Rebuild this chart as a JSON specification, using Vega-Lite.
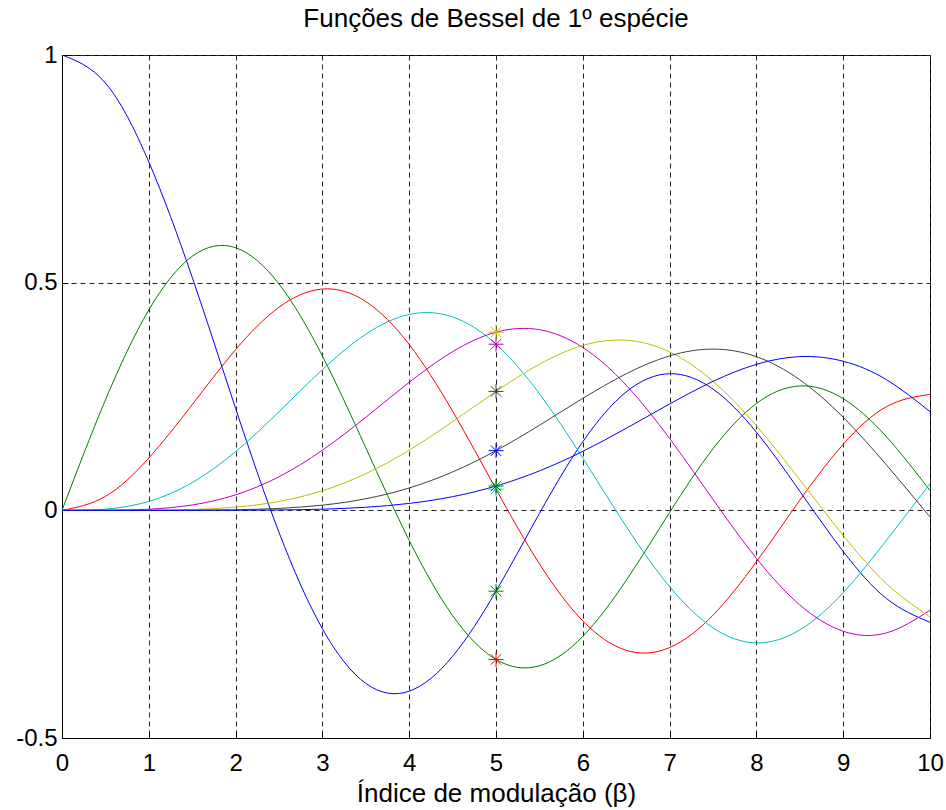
{
  "$schema": "https://vega.github.io/schema/vega-lite/v6.json",
  "width": 868,
  "height": 683,
  "autosize": {"type": "none"},
  "padding": {"left": 62, "top": 55, "right": 16, "bottom": 72},
  "background": "white",
  "config": {
    "font": "Liberation Sans",
    "view": {"stroke": "#000", "strokeWidth": 1},
    "axis": {
      "labelFont": "Liberation Sans",
      "titleFont": "Liberation Sans",
      "labelFontSize": 24,
      "titleFontSize": 26,
      "labelColor": "#000",
      "titleColor": "#000",
      "titleFontWeight": "normal",
      "domainColor": "#000",
      "tickColor": "#000",
      "grid": true,
      "gridColor": "#222",
      "gridDash": [5, 4],
      "gridWidth": 1,
      "ticks": true,
      "tickSize": -6
    }
  },
  "title": {
    "text": "Funções de Bessel de 1º espécie",
    "font": "Liberation Sans",
    "fontSize": 26,
    "fontWeight": "normal",
    "color": "#000",
    "anchor": "middle",
    "frame": "group",
    "baseline": "alphabetic",
    "offset": -10
  },
  "data": {"values": [
    {"n":"J0","x":0,"y":1},{"n":"J0","x":0.5,"y":0.93847},{"n":"J0","x":1,"y":0.76520},{"n":"J0","x":1.5,"y":0.51183},{"n":"J0","x":2,"y":0.22389},{"n":"J0","x":2.5,"y":-0.04838},{"n":"J0","x":3,"y":-0.26005},{"n":"J0","x":3.5,"y":-0.38013},{"n":"J0","x":4,"y":-0.39715},{"n":"J0","x":4.5,"y":-0.32054},{"n":"J0","x":5,"y":-0.17760},{"n":"J0","x":5.5,"y":-0.00684},{"n":"J0","x":6,"y":0.15065},{"n":"J0","x":6.5,"y":0.26009},{"n":"J0","x":7,"y":0.30008},{"n":"J0","x":7.5,"y":0.26634},{"n":"J0","x":8,"y":0.17165},{"n":"J0","x":8.5,"y":0.04194},{"n":"J0","x":9,"y":-0.09033},{"n":"J0","x":9.5,"y":-0.19393},{"n":"J0","x":10,"y":-0.24594},
    {"n":"J1","x":0,"y":0},{"n":"J1","x":0.5,"y":0.24227},{"n":"J1","x":1,"y":0.44005},{"n":"J1","x":1.5,"y":0.55794},{"n":"J1","x":2,"y":0.57672},{"n":"J1","x":2.5,"y":0.49709},{"n":"J1","x":3,"y":0.33906},{"n":"J1","x":3.5,"y":0.13738},{"n":"J1","x":4,"y":-0.06604},{"n":"J1","x":4.5,"y":-0.23106},{"n":"J1","x":5,"y":-0.32758},{"n":"J1","x":5.5,"y":-0.34144},{"n":"J1","x":6,"y":-0.27668},{"n":"J1","x":6.5,"y":-0.15384},{"n":"J1","x":7,"y":-0.00468},{"n":"J1","x":7.5,"y":0.13525},{"n":"J1","x":8,"y":0.23464},{"n":"J1","x":8.5,"y":0.27312},{"n":"J1","x":9,"y":0.24531},{"n":"J1","x":9.5,"y":0.16126},{"n":"J1","x":10,"y":0.04347},
    {"n":"J2","x":0,"y":0},{"n":"J2","x":0.5,"y":0.03061},{"n":"J2","x":1,"y":0.11490},{"n":"J2","x":1.5,"y":0.23209},{"n":"J2","x":2,"y":0.35283},{"n":"J2","x":2.5,"y":0.44605},{"n":"J2","x":3,"y":0.48609},{"n":"J2","x":3.5,"y":0.45863},{"n":"J2","x":4,"y":0.36413},{"n":"J2","x":4.5,"y":0.21785},{"n":"J2","x":5,"y":0.04657},{"n":"J2","x":5.5,"y":-0.11732},{"n":"J2","x":6,"y":-0.24288},{"n":"J2","x":6.5,"y":-0.30743},{"n":"J2","x":7,"y":-0.30142},{"n":"J2","x":7.5,"y":-0.23027},{"n":"J2","x":8,"y":-0.11299},{"n":"J2","x":8.5,"y":0.02232},{"n":"J2","x":9,"y":0.14484},{"n":"J2","x":9.5,"y":0.22788},{"n":"J2","x":10,"y":0.25463},
    {"n":"J3","x":0,"y":0},{"n":"J3","x":0.5,"y":0.00256},{"n":"J3","x":1,"y":0.01956},{"n":"J3","x":1.5,"y":0.06096},{"n":"J3","x":2,"y":0.12894},{"n":"J3","x":2.5,"y":0.21659},{"n":"J3","x":3,"y":0.30906},{"n":"J3","x":3.5,"y":0.38677},{"n":"J3","x":4,"y":0.43017},{"n":"J3","x":4.5,"y":0.42470},{"n":"J3","x":5,"y":0.36484},{"n":"J3","x":5.5,"y":0.25612},{"n":"J3","x":6,"y":0.11476},{"n":"J3","x":6.5,"y":-0.03535},{"n":"J3","x":7,"y":-0.16756},{"n":"J3","x":7.5,"y":-0.25806},{"n":"J3","x":8,"y":-0.29114},{"n":"J3","x":8.5,"y":-0.26262},{"n":"J3","x":9,"y":-0.18094},{"n":"J3","x":9.5,"y":-0.06531},{"n":"J3","x":10,"y":0.05838},
    {"n":"J4","x":0,"y":0},{"n":"J4","x":0.5,"y":0.00016},{"n":"J4","x":1,"y":0.00248},{"n":"J4","x":1.5,"y":0.01177},{"n":"J4","x":2,"y":0.03400},{"n":"J4","x":2.5,"y":0.07378},{"n":"J4","x":3,"y":0.13203},{"n":"J4","x":3.5,"y":0.20440},{"n":"J4","x":4,"y":0.28113},{"n":"J4","x":4.5,"y":0.34842},{"n":"J4","x":5,"y":0.39124},{"n":"J4","x":5.5,"y":0.39672},{"n":"J4","x":6,"y":0.35764},{"n":"J4","x":6.5,"y":0.27480},{"n":"J4","x":7,"y":0.15780},{"n":"J4","x":7.5,"y":0.02382},{"n":"J4","x":8,"y":-0.10537},{"n":"J4","x":8.5,"y":-0.20770},{"n":"J4","x":9,"y":-0.26547},{"n":"J4","x":9.5,"y":-0.26913},{"n":"J4","x":10,"y":-0.21960},
    {"n":"J5","x":0,"y":0},{"n":"J5","x":0.5,"y":0.00001},{"n":"J5","x":1,"y":0.00025},{"n":"J5","x":1.5,"y":0.00180},{"n":"J5","x":2,"y":0.00704},{"n":"J5","x":2.5,"y":0.01950},{"n":"J5","x":3,"y":0.04303},{"n":"J5","x":3.5,"y":0.08043},{"n":"J5","x":4,"y":0.13209},{"n":"J5","x":4.5,"y":0.19471},{"n":"J5","x":5,"y":0.26114},{"n":"J5","x":5.5,"y":0.32093},{"n":"J5","x":6,"y":0.36209},{"n":"J5","x":6.5,"y":0.37357},{"n":"J5","x":7,"y":0.34790},{"n":"J5","x":7.5,"y":0.28347},{"n":"J5","x":8,"y":0.18577},{"n":"J5","x":8.5,"y":0.06714},{"n":"J5","x":9,"y":-0.05503},{"n":"J5","x":9.5,"y":-0.16133},{"n":"J5","x":10,"y":-0.23406},
    {"n":"J6","x":0,"y":0},{"n":"J6","x":0.5,"y":0},{"n":"J6","x":1,"y":0.00002},{"n":"J6","x":1.5,"y":0.00023},{"n":"J6","x":2,"y":0.00120},{"n":"J6","x":2.5,"y":0.00422},{"n":"J6","x":3,"y":0.01139},{"n":"J6","x":3.5,"y":0.02543},{"n":"J6","x":4,"y":0.04910},{"n":"J6","x":4.5,"y":0.08427},{"n":"J6","x":5,"y":0.13104},{"n":"J6","x":5.5,"y":0.18679},{"n":"J6","x":6,"y":0.24584},{"n":"J6","x":6.5,"y":0.29992},{"n":"J6","x":7,"y":0.33920},{"n":"J6","x":7.5,"y":0.35414},{"n":"J6","x":8,"y":0.33758},{"n":"J6","x":8.5,"y":0.28669},{"n":"J6","x":9,"y":0.20433},{"n":"J6","x":9.5,"y":0.09931},{"n":"J6","x":10,"y":-0.01446},
    {"n":"J7","x":0,"y":0},{"n":"J7","x":0.5,"y":0},{"n":"J7","x":1,"y":0},{"n":"J7","x":1.5,"y":0.00002},{"n":"J7","x":2,"y":0.00017},{"n":"J7","x":2.5,"y":0.00078},{"n":"J7","x":3,"y":0.00255},{"n":"J7","x":3.5,"y":0.00674},{"n":"J7","x":4,"y":0.01518},{"n":"J7","x":4.5,"y":0.03001},{"n":"J7","x":5,"y":0.05336},{"n":"J7","x":5.5,"y":0.08661},{"n":"J7","x":6,"y":0.12959},{"n":"J7","x":6.5,"y":0.18013},{"n":"J7","x":7,"y":0.23359},{"n":"J7","x":7.5,"y":0.28315},{"n":"J7","x":8,"y":0.32060},{"n":"J7","x":8.5,"y":0.33760},{"n":"J7","x":9,"y":0.32747},{"n":"J7","x":9.5,"y":0.28677},{"n":"J7","x":10,"y":0.21671}
  ]},
  "encoding": {
    "x": {
      "field": "x", "type": "quantitative",
      "scale": {"domain": [0, 10], "nice": false, "zero": false},
      "axis": {
        "title": "Índice de modulação (β)",
        "values": [0,1,2,3,4,5,6,7,8,9,10],
        "labelPadding": 19,
        "titlePadding": 5,
        "labelFlush": false
      }
    },
    "y": {
      "field": "y", "type": "quantitative",
      "scale": {"domain": [-0.5, 1], "nice": false, "zero": false},
      "axis": {
        "title": null,
        "values": [-0.5, 0, 0.5, 1],
        "labelExpr": "'' + datum.value",
        "labelPadding": 11,
        "labelFlush": false
      }
    }
  },
  "layer": [
    {
      "mark": {"type": "line", "strokeWidth": 1, "interpolate": "natural", "clip": true},
      "encoding": {
        "color": {
          "field": "n", "type": "nominal", "legend": null,
          "scale": {"domain": ["J0","J1","J2","J3","J4","J5","J6","J7"],
                    "range": ["#0000FF","#008000","#FF0000","#00BFBF","#BF00BF","#BFBF00","#404040","#0000FF"]}
        }
      }
    },
    {
      "transform": [{"filter": "datum.x == 5"}],
      "mark": {"type": "point", "shape": "M-1,0H1M0,-1V1M-0.7,-0.7L0.7,0.7M-0.7,0.7L0.7,-0.7", "filled": false, "size": 225, "strokeWidth": 1, "opacity": 1},
      "encoding": {
        "color": {
          "field": "n", "type": "nominal", "legend": null,
          "scale": {"domain": ["J0","J1","J2","J3","J4","J5","J6","J7"],
                    "range": ["#008000","#FF0000","#00BFBF","#BF00BF","#BFBF00","#404040","#0000FF","#008000"]}
        }
      }
    }
  ],
  "resolve": {"scale": {"color": "independent"}}
}
